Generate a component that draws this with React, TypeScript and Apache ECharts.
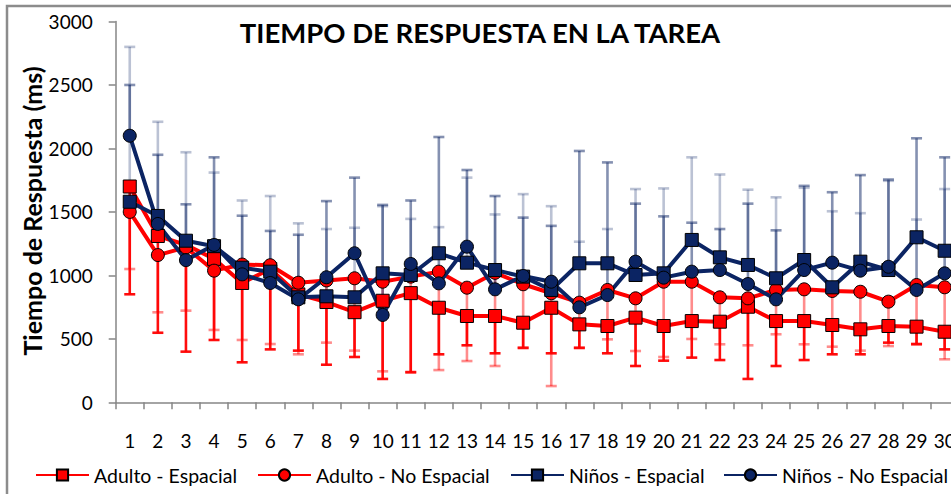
import React, { useEffect, useRef } from "react";
import * as echarts from "echarts";

const categories = ["1","2","3","4","5","6","7","8","9","10","11","12","13","14","15","16","17","18","19","20","21","22","23","24","25","26","27","28","29","30"];

const seriesNames = ["Adulto - Espacial", "Adulto - No Espacial", "Niños - Espacial", "Niños - No Espacial"];

const adultoEsp = [1700,1310,1240,1130,940,1050,850,790,710,800,860,745,680,680,627,745,614,601,667,601,640,635,753,640,640,609,575,601,596,556];
const adultoEspErr = [851,548,399,491,315,417,407,296,357,184,236,378,449,386,428,386,428,386,286,328,352,333,184,286,333,378,378,470,457,417];

const adultoNoEsp = [1500,1160,1220,1037,1085,1080,942,960,977,950,990,1029,903,1020,930,859,785,885,819,950,950,827,819,885,890,877,871,793,924,906];
const adultoNoEspErr = [1050,709,722,570,491,459,378,470,407,244,240,254,325,286,432,128,432,496,404,357,499,457,449,536,457,438,407,443,462,339];

const ninosEsp = [1580,1468,1273,1230,1060,1029,827,835,827,1016,1003,1174,1100,1042,990,885,1095,1095,1003,1016,1279,1142,1082,977,1121,906,1108,1042,1300,1194];
const ninosEspErr = [2800,2210,1970,1810,1590,1625,1410,1365,1375,1545,1445,1380,1770,1480,1640,1545,1265,1365,1680,1685,1930,1795,1675,1615,1690,1505,1490,1745,1440,1680];

const ninosNoEsp = [2100,1405,1120,1240,1008,940,811,985,1174,688,1090,937,1226,890,995,950,748,845,1108,982,1029,1042,932,811,1042,1100,1037,1068,885,1016];
const ninosNoEspErr = [2500,1950,1560,1930,1470,1350,1320,1585,1770,1555,1590,2090,1830,1625,1455,1390,1980,1890,1565,1465,1415,1365,1565,1355,1705,1655,1790,1755,2080,1930];

const yTicks = { min: 0, max: 3000, interval: 500 };

const RED = "#ff0000";
const NAVY = "#0b2463";
const FONT = "Lato";
const CHART_W = 967;

function errorSeries(values: number[], ends: number[], color: string) {
  return {
    type: "custom",
    z: 1,
    silent: true,
    encode: { x: 0, y: [1, 2] },
    data: values.map((v, i) => [i, v, ends[i]]),
    renderItem: (params: any, api: any) => {
      const x = api.value(0);
      const p0 = api.coord([x, api.value(1)]);
      const p1 = api.coord([x, api.value(2)]);
      const hw = 5.5;
      const style = { stroke: color, lineWidth: 2.6 };
      return {
        type: "group",
        children: [
          { type: "line", shape: { x1: p0[0], y1: p0[1], x2: p1[0], y2: p1[1] }, style },
          { type: "line", shape: { x1: p1[0] - hw, y1: p1[1], x2: p1[0] + hw, y2: p1[1] }, style },
        ],
      };
    },
  };
}

function lineSeries(name: string, values: number[], color: string, symbol: string) {
  return {
    name,
    type: "line",
    z: 3,
    data: values,
    symbol,
    symbolSize: 13,
    lineStyle: { color, width: 4 },
    itemStyle: { color, borderColor: "#000", borderWidth: 1 },
  };
}

function legendAt(name: string, left: number) {
  return {
    data: [name],
    left,
    top: 465,
    padding: 0,
    itemWidth: 53,
    itemHeight: 14,
    selectedMode: false,
    textStyle: { fontFamily: FONT, fontSize: 19.5, color: "#000" },
  };
}

export default function App() {
  const ref = useRef<HTMLDivElement>(null);
  useEffect(() => {
    const chart = echarts.init(ref.current!, null, { renderer: "svg" });
    chart.setOption({
      animation: false,
      backgroundColor: "#fff",
      grid: { left: 115.7, right: CHART_W - 958.7, top: 21.5, bottom: 91.7, containLabel: false },
      xAxis: {
        type: "category",
        data: categories,
        boundaryGap: true,
        axisLine: { lineStyle: { color: "#868686", width: 1.5 } },
        axisTick: { show: true, length: 7, lineStyle: { color: "#868686", width: 1.5 } },
        axisLabel: { margin: 28.5, fontFamily: FONT, fontSize: 19, color: "#000", interval: 0 },
      },
      yAxis: {
        type: "value",
        min: yTicks.min,
        max: yTicks.max,
        interval: yTicks.interval,
        splitLine: { show: false },
        axisLine: { show: true, lineStyle: { color: "#868686", width: 1.5 } },
        axisTick: { show: true, length: 7, lineStyle: { color: "#868686", width: 1.5 } },
        axisLabel: {
          margin: 23,
          fontFamily: FONT,
          fontSize: 19,
          color: "#000",
          formatter: (v: number) => String(v),
        },
      },
      legend: [
        legendAt(seriesNames[0], 35),
        legendAt(seriesNames[1], 257),
        legendAt(seriesNames[2], 510),
        legendAt(seriesNames[3], 723),
      ],
      graphic: [
        {
          type: "rect",
          shape: { x: 7, y: 6, width: 1200, height: 1200 },
          style: { fill: "none", stroke: "#8c8c8c", lineWidth: 2.5 },
          silent: true,
          z: -10,
        },
        {
          type: "text",
          x: 480,
          y: 32,
          style: {
            text: "TIEMPO DE RESPUESTA EN LA TAREA",
            fontFamily: FONT,
            fontWeight: "bold",
            fontSize: 27.5,
            fill: "#000",
            align: "center",
            verticalAlign: "middle",
          },
        },
        {
          type: "text",
          x: 32,
          y: 211,
          rotation: Math.PI / 2,
          style: {
            text: "Tiempo de Respuesta (ms)",
            fontFamily: FONT,
            fontWeight: "bold",
            fontSize: 25,
            fill: "#000",
            align: "center",
            verticalAlign: "middle",
          },
        },
      ],
      series: [
        errorSeries(adultoEsp, adultoEspErr, "rgba(255,0,0,0.95)"),
        errorSeries(adultoNoEsp, adultoNoEspErr, "rgba(255,0,0,0.45)"),
        errorSeries(ninosEsp, ninosEspErr, "rgba(11,36,99,0.28)"),
        errorSeries(ninosNoEsp, ninosNoEspErr, "rgba(11,36,99,0.5)"),
        lineSeries(seriesNames[0], adultoEsp, RED, "rect"),
        lineSeries(seriesNames[1], adultoNoEsp, RED, "circle"),
        lineSeries(seriesNames[2], ninosEsp, NAVY, "rect"),
        lineSeries(seriesNames[3], ninosNoEsp, NAVY, "circle"),
      ],
    });
    return () => chart.dispose();
  }, []);
  return (
    <div
      style={{ position: "fixed", left: 0, top: 0, width: 951, height: 494, overflow: "hidden", background: "#fff" }}
    >
      <div ref={ref} style={{ width: CHART_W, height: 494 }} />
    </div>
  );
}
